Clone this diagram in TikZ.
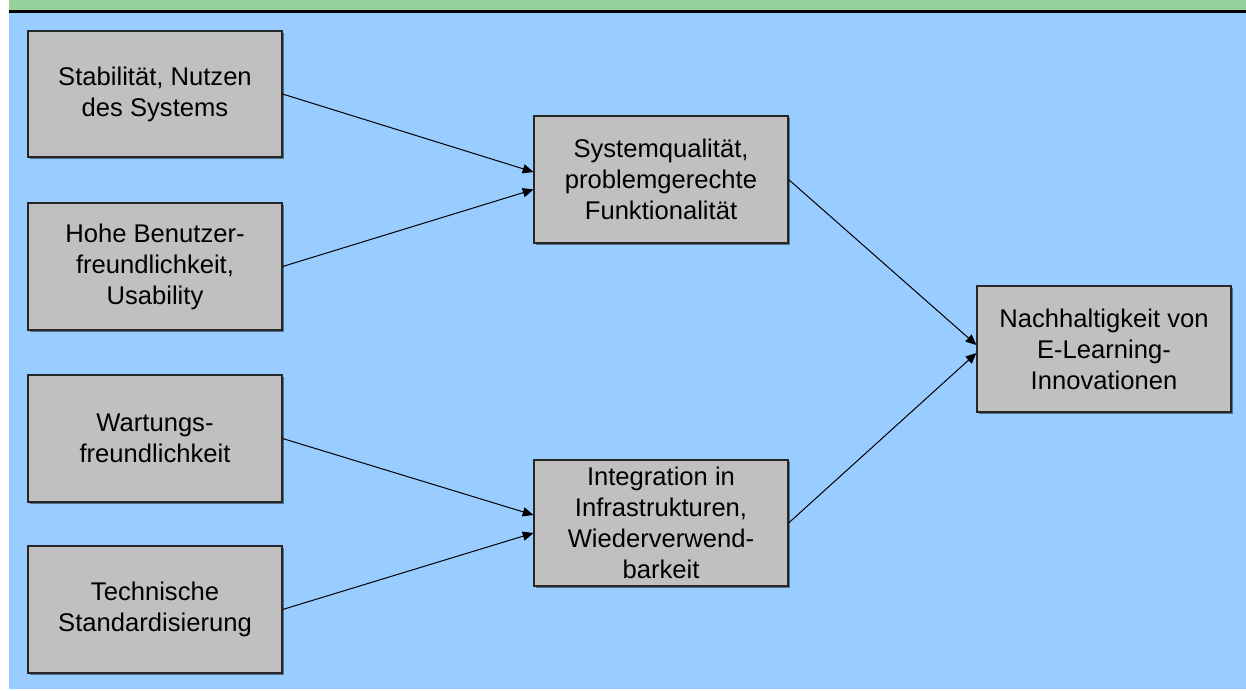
\documentclass[tikz,border=0pt]{standalone}
\usepackage{fontspec}
\setmainfont{Liberation Sans}
\usetikzlibrary{arrows.meta,calc,shadows}
\definecolor{bgblue}{RGB}{153,204,255}
\definecolor{bandgreen}{RGB}{150,209,155}
\definecolor{boxgray}{RGB}{192,192,192}
\begin{document}
\begin{tikzpicture}[x=0.75pt,y=-0.75pt,
  box/.style={draw=black!85, line width=0.9pt, fill=boxgray,
    drop shadow={shadow xshift=1.6pt, shadow yshift=-1.6pt, opacity=0.45, fill=black},
    align=center, inner sep=0pt, minimum width=190.5pt,
    font=\fontsize{19.2pt}{23.25pt}\selectfont},
  link/.style={line width=0.75pt, -{Triangle[length=8pt,width=7pt]}}]
  % page frame and background panels
  \useasboundingbox (0,0) rectangle (1246,690);
  \fill[white] (0,0) rectangle (1246,690);
  \fill[bandgreen] (9,0) rectangle (1246,10);
  \fill[bgblue] (9,12) rectangle (1246,689);
  \fill[black] (9,10) rectangle (1246,12.5);

  % input factors
  \node[box, minimum height=94.5pt] (stab) at (155,94) {Stabilität, Nutzen\\des Systems};
  \node[box, minimum height=95.25pt] (usab) at (155,266.5) {Hohe Benutzer-\\freundlichkeit,\\Usability};
  \node[box, minimum height=95.25pt] (wart) at (155,438.5) {Wartungs-\\freundlichkeit};
  \node[box, minimum height=95.25pt] (std) at (155,609.5) {Technische\\Standardisierung};

  % intermediate factors
  \node[box, minimum height=95.25pt] (sysq) at (661,179.5) {Systemqualität,\\problemgerechte\\Funktionalität};
  \node[box, minimum height=94.5pt] (integ) at (661,523) {Integration in\\Infrastrukturen,\\Wiederverwend-\\barkeit};

  % outcome
  \node[box, minimum height=94.5pt] (nach) at (1104,349) {Nachhaltigkeit von\\E-Learning-\\Innovationen};

  % influences
  \draw[link] (stab.east) -- ($(sysq.west)+(0,-7.5)$);
  \draw[link] (usab.east) -- ($(sysq.west)+(0,10)$);
  \draw[link] (wart.east) -- ($(integ.west)+(0,-8)$);
  \draw[link] (std.east) -- ($(integ.west)+(0,10)$);
  \draw[link] (sysq.east) -- ($(nach.west)+(0,-4)$);
  \draw[link] (integ.east) -- ($(nach.west)+(0,4)$);
\end{tikzpicture}
\end{document}
